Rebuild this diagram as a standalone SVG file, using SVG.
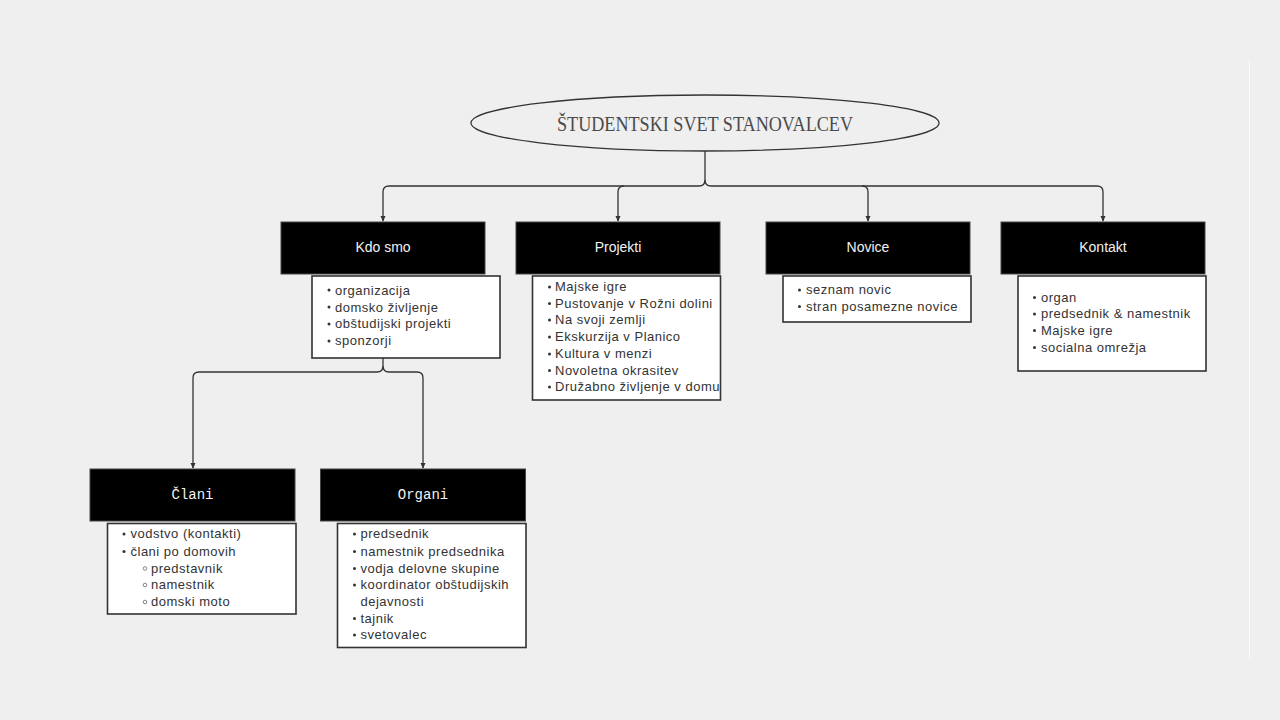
<svg xmlns="http://www.w3.org/2000/svg" width="1280" height="720" viewBox="0 0 1280 720">
<defs>
<marker id="arr" viewBox="0 0 8 8" refX="7" refY="4" markerWidth="6" markerHeight="6" markerUnits="userSpaceOnUse" orient="auto">
<path d="M0,0.5 L8,4 L0,7.5 Z" fill="#333"/>
</marker>
<style>
.hdr{fill:#000;stroke:#444;stroke-width:1}
.lst{fill:#fff;stroke:#333;stroke-width:1.6}
.ht{font-family:"Liberation Sans",Arial,sans-serif;font-size:14px;fill:#f2f2f2;text-anchor:middle}
.hm{font-family:"Liberation Mono","DejaVu Sans Mono",monospace;font-size:14px;fill:#f2f2f2;text-anchor:middle}
.li{font-family:"Liberation Sans",Arial,sans-serif;font-size:13px;fill:#333;letter-spacing:0.5px}
.b{fill:#333}
.cb{fill:none;stroke:#666;stroke-width:0.8}
.con{fill:none;stroke:#333;stroke-width:1.3}
</style>
</defs>
<rect width="1280" height="720" fill="#efefef"/>
<line x1="1249.5" y1="60" x2="1249.5" y2="658" stroke="#fbfbfb" stroke-width="1"/>

<g id="connectors">
<path class="con" d="M705,151 V180 Q705,186 699,186 H389 Q383,186 383,192 V221" marker-end="url(#arr)"/>
<path class="con" d="M705,180 Q705,186 711,186 H1097 Q1103,186 1103,192 V221" marker-end="url(#arr)"/>
<path class="con" d="M624,186 Q618,186 618,192 V221" marker-end="url(#arr)"/>
<path class="con" d="M862,186 Q868,186 868,192 V221" marker-end="url(#arr)"/>
<path class="con" d="M383,358 V366 Q383,372 377,372 H199 Q193,372 193,378 V468" marker-end="url(#arr)"/>
<path class="con" d="M383,366 Q383,372 389,372 H417 Q423,372 423,378 V468" marker-end="url(#arr)"/>
</g>

<g id="root">
<ellipse cx="705" cy="123" rx="234" ry="28" fill="none" stroke="#333" stroke-width="1.3"/>
<text x="705" y="130.5" font-family="Liberation Serif,'Times New Roman',serif" font-size="20" fill="#4a4a4a" text-anchor="middle" textLength="296" lengthAdjust="spacingAndGlyphs">ŠTUDENTSKI SVET STANOVALCEV</text>
</g>

<g id="kdo-smo">
<rect class="hdr" x="281" y="222" width="204" height="52"/>
<text class="ht" x="383" y="252">Kdo smo</text>
<rect class="lst" x="312" y="276" width="188" height="82"/>
<g class="b"><circle cx="329" cy="290" r="1.5"/><circle cx="329" cy="307" r="1.5"/><circle cx="329" cy="324" r="1.5"/><circle cx="329" cy="341" r="1.5"/></g>
<text class="li" x="335" y="294.5">organizacija</text>
<text class="li" x="335" y="311.5">domsko življenje</text>
<text class="li" x="335" y="328">obštudijski projekti</text>
<text class="li" x="335" y="345">sponzorji</text>
</g>

<g id="projekti">
<rect class="hdr" x="516" y="222" width="204" height="52"/>
<text class="ht" x="618" y="252">Projekti</text>
<rect class="lst" x="532.5" y="276" width="188" height="124"/>
<g class="b"><circle cx="549.5" cy="287" r="1.5"/><circle cx="549.5" cy="303.5" r="1.5"/><circle cx="549.5" cy="320" r="1.5"/><circle cx="549.5" cy="337" r="1.5"/><circle cx="549.5" cy="354" r="1.5"/><circle cx="549.5" cy="370.5" r="1.5"/><circle cx="549.5" cy="387" r="1.5"/></g>
<text class="li" x="555" y="291">Majske igre</text>
<text class="li" x="555" y="307.5">Pustovanje v Rožni dolini</text>
<text class="li" x="555" y="324">Na svoji zemlji</text>
<text class="li" x="555" y="341">Ekskurzija v Planico</text>
<text class="li" x="555" y="358">Kultura v menzi</text>
<text class="li" x="555" y="374.5">Novoletna okrasitev</text>
<text class="li" x="555" y="391">Družabno življenje v domu</text>
</g>

<g id="novice">
<rect class="hdr" x="766" y="222" width="204" height="52"/>
<text class="ht" x="868" y="252">Novice</text>
<rect class="lst" x="783" y="276" width="188" height="46"/>
<g class="b"><circle cx="799.5" cy="290" r="1.5"/><circle cx="799.5" cy="306.5" r="1.5"/></g>
<text class="li" x="806" y="294">seznam novic</text>
<text class="li" x="806" y="311">stran posamezne novice</text>
</g>

<g id="kontakt">
<rect class="hdr" x="1001" y="222" width="204" height="52"/>
<text class="ht" x="1103" y="252">Kontakt</text>
<rect class="lst" x="1018" y="276" width="188" height="95"/>
<g class="b"><circle cx="1034.5" cy="297.5" r="1.5"/><circle cx="1034.5" cy="314" r="1.5"/><circle cx="1034.5" cy="330.5" r="1.5"/><circle cx="1034.5" cy="347.5" r="1.5"/></g>
<text class="li" x="1041" y="301.5">organ</text>
<text class="li" x="1041" y="318">predsednik &amp; namestnik</text>
<text class="li" x="1041" y="334.5">Majske igre</text>
<text class="li" x="1041" y="351.5">socialna omrežja</text>
</g>

<g id="clani">
<rect class="hdr" x="90" y="469" width="205" height="52"/>
<text class="hm" x="192.5" y="499">Člani</text>
<rect class="lst" x="107.5" y="523.5" width="188.5" height="90.5"/>
<g class="b"><circle cx="124" cy="534" r="1.5"/><circle cx="124" cy="551.5" r="1.5"/></g>
<g class="cb"><circle cx="145" cy="568.5" r="1.8"/><circle cx="145" cy="585" r="1.8"/><circle cx="145" cy="602" r="1.8"/></g>
<text class="li" x="130.5" y="538">vodstvo (kontakti)</text>
<text class="li" x="130.5" y="555.5">člani po domovih</text>
<text class="li" x="151" y="572.5">predstavnik</text>
<text class="li" x="151" y="589">namestnik</text>
<text class="li" x="151" y="606">domski moto</text>
</g>

<g id="organi">
<rect class="hdr" x="320.5" y="469" width="205" height="52"/>
<text class="hm" x="423" y="499">Organi</text>
<rect class="lst" x="337.5" y="523.5" width="188.5" height="124"/>
<g class="b"><circle cx="354.5" cy="534" r="1.5"/><circle cx="354.5" cy="551.5" r="1.5"/><circle cx="354.5" cy="568.5" r="1.5"/><circle cx="354.5" cy="585" r="1.5"/><circle cx="354.5" cy="618.5" r="1.5"/><circle cx="354.5" cy="635" r="1.5"/></g>
<text class="li" x="360.5" y="538">predsednik</text>
<text class="li" x="360.5" y="555.5">namestnik predsednika</text>
<text class="li" x="360.5" y="572.5">vodja delovne skupine</text>
<text class="li" x="360.5" y="589">koordinator obštudijskih</text>
<text class="li" x="360.5" y="606">dejavnosti</text>
<text class="li" x="360.5" y="622.5">tajnik</text>
<text class="li" x="360.5" y="639">svetovalec</text>
</g>
</svg>
